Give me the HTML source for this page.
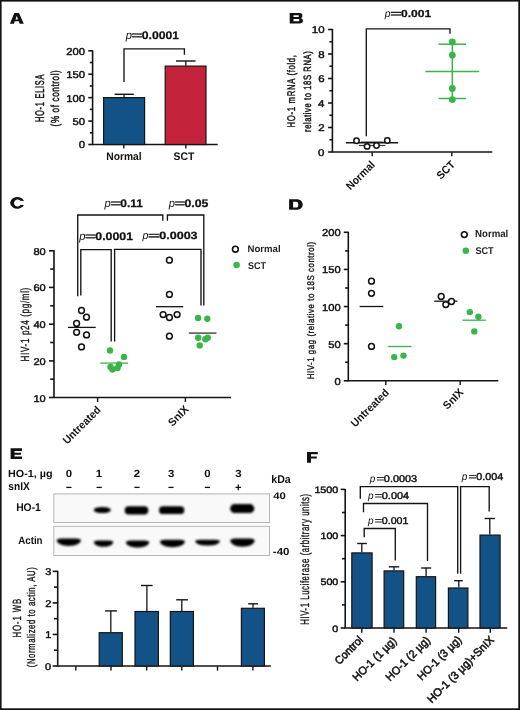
<!DOCTYPE html>
<html><head><meta charset="utf-8"><style>
html,body{margin:0;padding:0;background:#fff;}
svg{display:block;will-change:transform;}
text{font-family:"Liberation Sans",sans-serif;text-rendering:geometricPrecision;}
</style></head><body>
<svg width="520" height="710" viewBox="0 0 520 710">
<rect x="0" y="0" width="520" height="710" fill="#fff"/>
<rect x="0.00" y="0.00" width="1.60" height="710.00" fill="#111" stroke="none" stroke-width="0"/>
<rect x="0.00" y="0.00" width="520.00" height="1.60" fill="#111" stroke="none" stroke-width="0"/>
<rect x="518.30" y="0.00" width="1.70" height="710.00" fill="#111" stroke="none" stroke-width="0"/>
<rect x="0.00" y="708.30" width="520.00" height="1.70" fill="#111" stroke="none" stroke-width="0"/>
<path d="M9.9,23.7 L14.3,13.0 L19.0,13.0 L23.8,23.7 L19.6,23.7 L18.9,21.3 L14.7,21.3 L14.0,23.7 Z M15.5,19.5 L18.0,19.5 L16.8,15.8 Z" stroke="none" stroke-width="0" fill="#111" fill-rule="evenodd"/>
<line x1="92.60" y1="50.30" x2="92.60" y2="145.10" stroke="#141414" stroke-width="1.6"/>
<line x1="88.30" y1="50.80" x2="92.60" y2="50.80" stroke="#141414" stroke-width="1.6"/>
<line x1="88.30" y1="74.22" x2="92.60" y2="74.22" stroke="#141414" stroke-width="1.6"/>
<line x1="88.30" y1="97.65" x2="92.60" y2="97.65" stroke="#141414" stroke-width="1.6"/>
<line x1="88.30" y1="121.08" x2="92.60" y2="121.08" stroke="#141414" stroke-width="1.6"/>
<line x1="88.30" y1="144.50" x2="92.60" y2="144.50" stroke="#141414" stroke-width="1.6"/>
<line x1="89.80" y1="62.51" x2="92.60" y2="62.51" stroke="#141414" stroke-width="1.6"/>
<line x1="89.80" y1="85.94" x2="92.60" y2="85.94" stroke="#141414" stroke-width="1.6"/>
<line x1="89.80" y1="109.36" x2="92.60" y2="109.36" stroke="#141414" stroke-width="1.6"/>
<line x1="89.80" y1="132.79" x2="92.60" y2="132.79" stroke="#141414" stroke-width="1.6"/>
<text transform="translate(66.34,54.65) scale(1.1266,1)" font-size="10.00" font-weight="normal" font-style="normal" text-anchor="start" fill="#111" stroke="#111" stroke-width="0.45" stroke-linejoin="round">200</text>
<text transform="translate(66.34,78.07) scale(1.1266,1)" font-size="10.00" font-weight="normal" font-style="normal" text-anchor="start" fill="#111" stroke="#111" stroke-width="0.45" stroke-linejoin="round">150</text>
<text transform="translate(66.34,101.50) scale(1.1266,1)" font-size="10.00" font-weight="normal" font-style="normal" text-anchor="start" fill="#111" stroke="#111" stroke-width="0.45" stroke-linejoin="round">100</text>
<text transform="translate(72.59,124.92) scale(1.1266,1)" font-size="10.00" font-weight="normal" font-style="normal" text-anchor="start" fill="#111" stroke="#111" stroke-width="0.45" stroke-linejoin="round">50</text>
<text transform="translate(78.84,148.35) scale(1.1266,1)" font-size="10.00" font-weight="normal" font-style="normal" text-anchor="start" fill="#111" stroke="#111" stroke-width="0.45" stroke-linejoin="round">0</text>
<line x1="92.60" y1="144.50" x2="217.70" y2="144.50" stroke="#141414" stroke-width="1.5"/>
<line x1="123.80" y1="144.50" x2="123.80" y2="148.50" stroke="#141414" stroke-width="1.4"/>
<line x1="185.80" y1="144.50" x2="185.80" y2="148.50" stroke="#141414" stroke-width="1.4"/>
<rect x="103.60" y="97.60" width="41.00" height="46.90" fill="#125287" stroke="#141414" stroke-width="1.2"/>
<rect x="165.20" y="66.10" width="40.80" height="78.40" fill="#c4213a" stroke="#141414" stroke-width="1.2"/>
<line x1="124.10" y1="97.30" x2="124.10" y2="94.30" stroke="#141414" stroke-width="1.3"/>
<line x1="114.60" y1="94.30" x2="133.80" y2="94.30" stroke="#141414" stroke-width="1.4"/>
<line x1="185.80" y1="65.80" x2="185.80" y2="61.00" stroke="#141414" stroke-width="1.3"/>
<line x1="176.00" y1="61.00" x2="195.60" y2="61.00" stroke="#141414" stroke-width="1.4"/>
<path d="M124,82 V48.9 H184.4 V54.8" stroke="#141414" stroke-width="1.35" fill="none"/>
<text transform="translate(141.81,39.40) scale(1.1079,1)" font-size="11.00" font-weight="bold" font-style="normal" text-anchor="start" fill="#111" stroke="#111" stroke-width="0.25" stroke-linejoin="round">0.0001</text>
<text transform="translate(125.68,39.40) scale(0.9697,1)" font-size="11.55" font-weight="normal" font-style="italic" text-anchor="start" fill="#111">p</text>
<text transform="translate(131.35,39.40) scale(1.7751,1)" font-size="11.00" font-weight="normal" font-style="normal" text-anchor="start" fill="#111" stroke="#111" stroke-width="0.35" stroke-linejoin="round">=</text>
<text transform="translate(106.23,160.00) scale(0.9339,1)" font-size="11.01" font-weight="bold" font-style="normal" text-anchor="start" fill="#111">Normal</text>
<text transform="translate(173.49,160.00) scale(0.9450,1)" font-size="11.01" font-weight="bold" font-style="normal" text-anchor="start" fill="#111">SCT</text>
<text transform="translate(43.97,121.99) rotate(-90) scale(0.5858,1)" font-size="12.68" font-weight="normal" font-style="normal" text-anchor="start" fill="#111" stroke="#111" stroke-width="0.45" stroke-linejoin="round" letter-spacing="1.243">HO-1 ELISA</text>
<text transform="translate(58.55,126.39) rotate(-90) scale(0.6991,1)" font-size="11.66" font-weight="normal" font-style="normal" text-anchor="start" fill="#111" stroke="#111" stroke-width="0.45" stroke-linejoin="round" letter-spacing="0.850">(% of control)</text>
<path d="M289.7,13.1 H299.5 C301.6,13.1 302.4,14.3 302.4,15.7 C302.4,16.9 301.7,17.6 300.9,18.0 C302.1,18.4 302.9,19.3 302.9,20.7 C302.9,22.4 301.7,23.5 299.6,23.5 H289.7 Z M293.5,15.3 H298.2 C298.8,15.3 299.0,15.7 299.0,16.1 C299.0,16.5 298.8,16.9 298.2,16.9 H293.5 Z M293.5,19.1 H298.4 C299.1,19.1 299.4,19.6 299.4,20.15 C299.4,20.7 299.1,21.2 298.4,21.2 H293.5 Z" stroke="none" stroke-width="0" fill="#111" fill-rule="evenodd"/>
<line x1="332.40" y1="29.00" x2="332.40" y2="152.60" stroke="#141414" stroke-width="1.6"/>
<line x1="328.10" y1="152.00" x2="332.40" y2="152.00" stroke="#141414" stroke-width="1.6"/>
<line x1="328.10" y1="127.50" x2="332.40" y2="127.50" stroke="#141414" stroke-width="1.6"/>
<line x1="328.10" y1="103.00" x2="332.40" y2="103.00" stroke="#141414" stroke-width="1.6"/>
<line x1="328.10" y1="78.50" x2="332.40" y2="78.50" stroke="#141414" stroke-width="1.6"/>
<line x1="328.10" y1="54.00" x2="332.40" y2="54.00" stroke="#141414" stroke-width="1.6"/>
<line x1="328.10" y1="29.50" x2="332.40" y2="29.50" stroke="#141414" stroke-width="1.6"/>
<line x1="329.40" y1="139.75" x2="332.40" y2="139.75" stroke="#141414" stroke-width="1.6"/>
<line x1="329.40" y1="115.25" x2="332.40" y2="115.25" stroke="#141414" stroke-width="1.6"/>
<line x1="329.40" y1="90.75" x2="332.40" y2="90.75" stroke="#141414" stroke-width="1.6"/>
<line x1="329.40" y1="66.25" x2="332.40" y2="66.25" stroke="#141414" stroke-width="1.6"/>
<line x1="329.40" y1="41.75" x2="332.40" y2="41.75" stroke="#141414" stroke-width="1.6"/>
<text transform="translate(318.12,155.70) scale(1.1664,1)" font-size="9.86" font-weight="normal" font-style="normal" text-anchor="start" fill="#111" stroke="#111" stroke-width="0.45" stroke-linejoin="round">0</text>
<text transform="translate(318.29,131.20) scale(1.1664,1)" font-size="9.86" font-weight="normal" font-style="normal" text-anchor="start" fill="#111" stroke="#111" stroke-width="0.45" stroke-linejoin="round">2</text>
<text transform="translate(318.06,106.70) scale(1.1664,1)" font-size="9.86" font-weight="normal" font-style="normal" text-anchor="start" fill="#111" stroke="#111" stroke-width="0.45" stroke-linejoin="round">4</text>
<text transform="translate(318.18,82.20) scale(1.1664,1)" font-size="9.86" font-weight="normal" font-style="normal" text-anchor="start" fill="#111" stroke="#111" stroke-width="0.45" stroke-linejoin="round">6</text>
<text transform="translate(318.18,57.70) scale(1.1664,1)" font-size="9.86" font-weight="normal" font-style="normal" text-anchor="start" fill="#111" stroke="#111" stroke-width="0.45" stroke-linejoin="round">8</text>
<text transform="translate(311.74,33.20) scale(1.1664,1)" font-size="9.86" font-weight="normal" font-style="normal" text-anchor="start" fill="#111" stroke="#111" stroke-width="0.45" stroke-linejoin="round">10</text>
<line x1="332.40" y1="152.00" x2="492.30" y2="152.00" stroke="#141414" stroke-width="1.5"/>
<line x1="372.20" y1="152.20" x2="372.20" y2="156.30" stroke="#141414" stroke-width="1.4"/>
<line x1="451.80" y1="152.20" x2="451.80" y2="156.30" stroke="#141414" stroke-width="1.4"/>
<path d="M366.3,136.3 V28.8 H450 V33.7" stroke="#141414" stroke-width="1.35" fill="none"/>
<text transform="translate(401.02,16.60) scale(1.1863,1)" font-size="10.14" font-weight="bold" font-style="normal" text-anchor="start" fill="#111" stroke="#111" stroke-width="0.25" stroke-linejoin="round">0.001</text>
<text transform="translate(384.86,16.60) scale(0.9697,1)" font-size="10.65" font-weight="normal" font-style="italic" text-anchor="start" fill="#111">p</text>
<text transform="translate(389.96,16.60) scale(2.0348,1)" font-size="10.14" font-weight="normal" font-style="normal" text-anchor="start" fill="#111" stroke="#111" stroke-width="0.35" stroke-linejoin="round">=</text>
<line x1="360.90" y1="141.60" x2="383.50" y2="141.60" stroke="#999" stroke-width="1.3"/>
<line x1="359.00" y1="145.50" x2="385.40" y2="145.50" stroke="#333" stroke-width="1.2"/>
<line x1="346.00" y1="142.80" x2="398.00" y2="142.80" stroke="#141414" stroke-width="1.4"/>
<circle cx="356.50" cy="140.80" r="2.7" fill="#fff" stroke="#111" stroke-width="1.5"/>
<circle cx="367.10" cy="146.40" r="2.7" fill="#fff" stroke="#111" stroke-width="1.5"/>
<circle cx="376.50" cy="145.50" r="2.7" fill="#fff" stroke="#111" stroke-width="1.5"/>
<circle cx="387.30" cy="140.50" r="2.7" fill="#fff" stroke="#111" stroke-width="1.5"/>
<line x1="452.30" y1="44.20" x2="452.30" y2="98.50" stroke="#3ab54a" stroke-width="1.5"/>
<line x1="438.50" y1="44.20" x2="466.00" y2="44.20" stroke="#3ab54a" stroke-width="1.5"/>
<line x1="438.50" y1="98.50" x2="466.00" y2="98.50" stroke="#3ab54a" stroke-width="1.5"/>
<line x1="425.40" y1="71.50" x2="479.20" y2="71.50" stroke="#3ab54a" stroke-width="1.5"/>
<circle cx="452.30" cy="41.90" r="3.4" fill="#3ab54a"/>
<circle cx="452.30" cy="55.20" r="3.4" fill="#3ab54a"/>
<circle cx="452.30" cy="88.50" r="3.4" fill="#3ab54a"/>
<circle cx="452.30" cy="99.60" r="3.4" fill="#3ab54a"/>
<text transform="translate(295.06,127.42) rotate(-90) scale(0.6977,1)" font-size="11.12" font-weight="normal" font-style="normal" text-anchor="start" fill="#111" stroke="#111" stroke-width="0.45" stroke-linejoin="round" letter-spacing="0.952">HO-1 mRNA (fold,</text>
<text transform="translate(310.58,132.00) rotate(-90) scale(0.7214,1)" font-size="10.59" font-weight="normal" font-style="normal" text-anchor="start" fill="#111" stroke="#111" stroke-width="0.45" stroke-linejoin="round" letter-spacing="0.815">relative to 18S RNA)</text>
<path d="M24.06,200.9 A7.2,5.8 0 1 0 24.0,205.0 L20.4,205.0 A3.5,3.45 0 1 1 20.15,200.8 Z" stroke="none" stroke-width="0" fill="#111"/>
<line x1="54.00" y1="250.30" x2="54.00" y2="398.10" stroke="#141414" stroke-width="1.6"/>
<line x1="49.00" y1="250.80" x2="54.00" y2="250.80" stroke="#141414" stroke-width="1.6"/>
<line x1="49.00" y1="287.40" x2="54.00" y2="287.40" stroke="#141414" stroke-width="1.6"/>
<line x1="49.00" y1="324.20" x2="54.00" y2="324.20" stroke="#141414" stroke-width="1.6"/>
<line x1="49.00" y1="360.90" x2="54.00" y2="360.90" stroke="#141414" stroke-width="1.6"/>
<line x1="49.00" y1="397.50" x2="54.00" y2="397.50" stroke="#141414" stroke-width="1.6"/>
<line x1="50.20" y1="269.10" x2="54.00" y2="269.10" stroke="#141414" stroke-width="1.6"/>
<line x1="50.20" y1="305.80" x2="54.00" y2="305.80" stroke="#141414" stroke-width="1.6"/>
<line x1="50.20" y1="342.50" x2="54.00" y2="342.50" stroke="#141414" stroke-width="1.6"/>
<line x1="50.20" y1="379.20" x2="54.00" y2="379.20" stroke="#141414" stroke-width="1.6"/>
<text transform="translate(33.40,254.80) scale(1.1226,1)" font-size="9.86" font-weight="normal" font-style="normal" text-anchor="start" fill="#111" stroke="#111" stroke-width="0.45" stroke-linejoin="round">80</text>
<text transform="translate(33.40,291.40) scale(1.1226,1)" font-size="9.86" font-weight="normal" font-style="normal" text-anchor="start" fill="#111" stroke="#111" stroke-width="0.45" stroke-linejoin="round">60</text>
<text transform="translate(33.40,328.20) scale(1.1226,1)" font-size="9.86" font-weight="normal" font-style="normal" text-anchor="start" fill="#111" stroke="#111" stroke-width="0.45" stroke-linejoin="round">40</text>
<text transform="translate(33.40,364.90) scale(1.1226,1)" font-size="9.86" font-weight="normal" font-style="normal" text-anchor="start" fill="#111" stroke="#111" stroke-width="0.45" stroke-linejoin="round">20</text>
<text transform="translate(33.40,401.50) scale(1.1226,1)" font-size="9.86" font-weight="normal" font-style="normal" text-anchor="start" fill="#111" stroke="#111" stroke-width="0.45" stroke-linejoin="round">10</text>
<line x1="54.00" y1="397.50" x2="231.00" y2="397.50" stroke="#141414" stroke-width="1.5"/>
<line x1="97.60" y1="397.50" x2="97.60" y2="402.00" stroke="#141414" stroke-width="1.4"/>
<line x1="185.40" y1="397.50" x2="185.40" y2="402.00" stroke="#141414" stroke-width="1.4"/>
<path d="M77.7,296.2 V215 H162.8 V220.8" stroke="#141414" stroke-width="1.35" fill="none"/>
<path d="M167.4,220.8 V215 H203.8 V305.4" stroke="#141414" stroke-width="1.35" fill="none"/>
<path d="M80.8,295.4 V249.6 H111.2 V341.5" stroke="#141414" stroke-width="1.35" fill="none"/>
<path d="M114.6,341.5 V249.4 H201 V305.4" stroke="#141414" stroke-width="1.35" fill="none"/>
<text transform="translate(120.32,206.50) scale(1.0859,1)" font-size="11.00" font-weight="bold" font-style="normal" text-anchor="start" fill="#111" stroke="#111" stroke-width="0.25" stroke-linejoin="round">0.11</text>
<text transform="translate(104.48,206.50) scale(0.9697,1)" font-size="11.55" font-weight="normal" font-style="italic" text-anchor="start" fill="#111">p</text>
<text transform="translate(110.18,206.50) scale(1.7188,1)" font-size="11.00" font-weight="normal" font-style="normal" text-anchor="start" fill="#111" stroke="#111" stroke-width="0.35" stroke-linejoin="round">=</text>
<text transform="translate(184.51,206.50) scale(1.1122,1)" font-size="11.00" font-weight="bold" font-style="normal" text-anchor="start" fill="#111" stroke="#111" stroke-width="0.25" stroke-linejoin="round">0.05</text>
<text transform="translate(168.78,206.50) scale(0.9697,1)" font-size="11.55" font-weight="normal" font-style="italic" text-anchor="start" fill="#111">p</text>
<text transform="translate(174.49,206.50) scale(1.7001,1)" font-size="11.00" font-weight="normal" font-style="normal" text-anchor="start" fill="#111" stroke="#111" stroke-width="0.35" stroke-linejoin="round">=</text>
<text transform="translate(95.31,239.60) scale(1.1231,1)" font-size="11.00" font-weight="bold" font-style="normal" text-anchor="start" fill="#111" stroke="#111" stroke-width="0.25" stroke-linejoin="round">0.0001</text>
<text transform="translate(79.18,239.60) scale(0.9697,1)" font-size="11.55" font-weight="normal" font-style="italic" text-anchor="start" fill="#111">p</text>
<text transform="translate(84.85,239.60) scale(1.7751,1)" font-size="11.00" font-weight="normal" font-style="normal" text-anchor="start" fill="#111" stroke="#111" stroke-width="0.35" stroke-linejoin="round">=</text>
<text transform="translate(159.20,239.30) scale(1.2047,1)" font-size="10.43" font-weight="bold" font-style="normal" text-anchor="start" fill="#111" stroke="#111" stroke-width="0.25" stroke-linejoin="round">0.0003</text>
<text transform="translate(142.57,239.30) scale(0.9697,1)" font-size="10.95" font-weight="normal" font-style="italic" text-anchor="start" fill="#111">p</text>
<text transform="translate(147.81,239.30) scale(2.0424,1)" font-size="10.43" font-weight="normal" font-style="normal" text-anchor="start" fill="#111" stroke="#111" stroke-width="0.35" stroke-linejoin="round">=</text>
<line x1="68.00" y1="327.40" x2="95.70" y2="327.40" stroke="#141414" stroke-width="1.3"/>
<circle cx="81.50" cy="310.50" r="2.9" fill="#fff" stroke="#111" stroke-width="1.5"/>
<circle cx="86.50" cy="317.20" r="2.9" fill="#fff" stroke="#111" stroke-width="1.5"/>
<circle cx="76.60" cy="323.40" r="2.9" fill="#fff" stroke="#111" stroke-width="1.5"/>
<circle cx="76.60" cy="332.30" r="2.9" fill="#fff" stroke="#111" stroke-width="1.5"/>
<circle cx="86.50" cy="334.90" r="2.9" fill="#fff" stroke="#111" stroke-width="1.5"/>
<circle cx="81.50" cy="346.90" r="2.9" fill="#fff" stroke="#111" stroke-width="1.5"/>
<circle cx="110.00" cy="350.50" r="3.2" fill="#3ab54a"/>
<circle cx="124.00" cy="356.90" r="3.2" fill="#3ab54a"/>
<circle cx="110.50" cy="367.00" r="3.2" fill="#3ab54a"/>
<circle cx="112.50" cy="369.50" r="3.2" fill="#3ab54a"/>
<circle cx="117.50" cy="368.00" r="3.2" fill="#3ab54a"/>
<circle cx="119.00" cy="364.50" r="3.2" fill="#3ab54a"/>
<line x1="100.40" y1="363.10" x2="128.10" y2="363.10" stroke="#3ab54a" stroke-width="1.3"/>
<line x1="156.00" y1="306.70" x2="183.30" y2="306.70" stroke="#141414" stroke-width="1.3"/>
<circle cx="169.40" cy="260.20" r="2.9" fill="#fff" stroke="#111" stroke-width="1.5"/>
<circle cx="169.40" cy="294.40" r="2.9" fill="#fff" stroke="#111" stroke-width="1.5"/>
<circle cx="163.10" cy="314.60" r="2.9" fill="#fff" stroke="#111" stroke-width="1.5"/>
<circle cx="169.40" cy="317.50" r="2.9" fill="#fff" stroke="#111" stroke-width="1.5"/>
<circle cx="177.10" cy="314.60" r="2.9" fill="#fff" stroke="#111" stroke-width="1.5"/>
<circle cx="169.40" cy="336.20" r="2.9" fill="#fff" stroke="#111" stroke-width="1.5"/>
<circle cx="198.10" cy="317.90" r="3.2" fill="#3ab54a"/>
<circle cx="207.30" cy="318.80" r="3.2" fill="#3ab54a"/>
<circle cx="198.20" cy="337.70" r="3.2" fill="#3ab54a"/>
<circle cx="205.40" cy="339.20" r="3.2" fill="#3ab54a"/>
<circle cx="207.70" cy="337.70" r="3.2" fill="#3ab54a"/>
<circle cx="199.70" cy="345.40" r="3.2" fill="#3ab54a"/>
<line x1="188.80" y1="333.10" x2="216.50" y2="333.10" stroke="#333" stroke-width="1.3"/>
<circle cx="235.40" cy="249.20" r="2.9" fill="#fff" stroke="#111" stroke-width="1.6"/>
<circle cx="236.60" cy="265.00" r="3.3" fill="#3ab54a"/>
<text transform="translate(247.58,251.60) scale(1.0029,1)" font-size="9.57" font-weight="bold" font-style="normal" text-anchor="start" fill="#222">Normal</text>
<text transform="translate(247.93,268.80) scale(0.9112,1)" font-size="9.86" font-weight="bold" font-style="normal" text-anchor="start" fill="#222">SCT</text>
<text transform="translate(28.81,361.45) rotate(-90) scale(0.6844,1)" font-size="11.87" font-weight="normal" font-style="normal" text-anchor="start" fill="#111" stroke="#111" stroke-width="0.35" stroke-linejoin="round" letter-spacing="0.929">HIV-1 p24 (pg/ml)</text>
<path d="M289.1,199.2 H296.5 C300.3,199.2 302.7,201.4 302.7,204.45 C302.7,207.5 300.3,209.7 296.5,209.7 H289.1 Z M293.1,201.8 H296.2 C297.8,201.8 298.3,203.0 298.3,204.7 C298.3,206.4 297.8,207.6 296.2,207.6 H293.1 Z" stroke="none" stroke-width="0" fill="#111" fill-rule="evenodd"/>
<line x1="348.30" y1="231.80" x2="348.30" y2="381.40" stroke="#141414" stroke-width="1.6"/>
<line x1="343.80" y1="380.80" x2="348.30" y2="380.80" stroke="#141414" stroke-width="1.6"/>
<line x1="343.80" y1="343.68" x2="348.30" y2="343.68" stroke="#141414" stroke-width="1.6"/>
<line x1="343.80" y1="306.55" x2="348.30" y2="306.55" stroke="#141414" stroke-width="1.6"/>
<line x1="343.80" y1="269.43" x2="348.30" y2="269.43" stroke="#141414" stroke-width="1.6"/>
<line x1="343.80" y1="232.30" x2="348.30" y2="232.30" stroke="#141414" stroke-width="1.6"/>
<line x1="345.10" y1="362.24" x2="348.30" y2="362.24" stroke="#141414" stroke-width="1.6"/>
<line x1="345.10" y1="325.11" x2="348.30" y2="325.11" stroke="#141414" stroke-width="1.6"/>
<line x1="345.10" y1="287.99" x2="348.30" y2="287.99" stroke="#141414" stroke-width="1.6"/>
<line x1="345.10" y1="250.86" x2="348.30" y2="250.86" stroke="#141414" stroke-width="1.6"/>
<text transform="translate(334.41,384.75) scale(1.1139,1)" font-size="10.00" font-weight="normal" font-style="normal" text-anchor="start" fill="#111" stroke="#111" stroke-width="0.45" stroke-linejoin="round">0</text>
<text transform="translate(328.23,347.62) scale(1.1139,1)" font-size="10.00" font-weight="normal" font-style="normal" text-anchor="start" fill="#111" stroke="#111" stroke-width="0.45" stroke-linejoin="round">50</text>
<text transform="translate(322.04,310.50) scale(1.1139,1)" font-size="10.00" font-weight="normal" font-style="normal" text-anchor="start" fill="#111" stroke="#111" stroke-width="0.45" stroke-linejoin="round">100</text>
<text transform="translate(322.04,273.38) scale(1.1139,1)" font-size="10.00" font-weight="normal" font-style="normal" text-anchor="start" fill="#111" stroke="#111" stroke-width="0.45" stroke-linejoin="round">150</text>
<text transform="translate(322.04,236.25) scale(1.1139,1)" font-size="10.00" font-weight="normal" font-style="normal" text-anchor="start" fill="#111" stroke="#111" stroke-width="0.45" stroke-linejoin="round">200</text>
<line x1="348.30" y1="380.80" x2="498.30" y2="380.80" stroke="#141414" stroke-width="1.5"/>
<line x1="385.80" y1="380.80" x2="385.80" y2="385.00" stroke="#141414" stroke-width="1.4"/>
<line x1="460.20" y1="380.80" x2="460.20" y2="385.00" stroke="#141414" stroke-width="1.4"/>
<line x1="359.60" y1="306.50" x2="383.30" y2="306.50" stroke="#141414" stroke-width="1.3"/>
<circle cx="371.50" cy="281.20" r="2.9" fill="#fff" stroke="#111" stroke-width="1.5"/>
<circle cx="371.50" cy="293.30" r="2.9" fill="#fff" stroke="#111" stroke-width="1.5"/>
<circle cx="371.50" cy="346.40" r="2.9" fill="#fff" stroke="#111" stroke-width="1.5"/>
<line x1="387.90" y1="346.50" x2="411.50" y2="346.50" stroke="#3ab54a" stroke-width="1.3"/>
<circle cx="399.00" cy="326.30" r="3.2" fill="#3ab54a"/>
<circle cx="394.20" cy="357.10" r="3.2" fill="#3ab54a"/>
<circle cx="403.50" cy="355.60" r="3.2" fill="#3ab54a"/>
<line x1="434.30" y1="301.20" x2="457.40" y2="301.20" stroke="#141414" stroke-width="1.3"/>
<circle cx="441.20" cy="296.50" r="2.9" fill="#fff" stroke="#111" stroke-width="1.5"/>
<circle cx="445.80" cy="304.60" r="2.9" fill="#fff" stroke="#111" stroke-width="1.5"/>
<circle cx="451.50" cy="301.50" r="2.9" fill="#fff" stroke="#111" stroke-width="1.5"/>
<line x1="462.50" y1="320.20" x2="485.90" y2="320.20" stroke="#3ab54a" stroke-width="1.3"/>
<circle cx="469.80" cy="312.10" r="3.2" fill="#3ab54a"/>
<circle cx="478.40" cy="316.70" r="3.2" fill="#3ab54a"/>
<circle cx="474.30" cy="331.40" r="3.2" fill="#3ab54a"/>
<circle cx="464.30" cy="234.60" r="2.9" fill="#fff" stroke="#111" stroke-width="1.6"/>
<circle cx="465.80" cy="250.80" r="3.3" fill="#3ab54a"/>
<text transform="translate(475.07,237.20) scale(0.9515,1)" font-size="10.14" font-weight="bold" font-style="normal" text-anchor="start" fill="#222">Normal</text>
<text transform="translate(475.43,254.20) scale(0.9215,1)" font-size="9.86" font-weight="bold" font-style="normal" text-anchor="start" fill="#222">SCT</text>
<text transform="translate(313.58,379.33) rotate(-90) scale(0.8162,1)" font-size="9.63" font-weight="normal" font-style="normal" text-anchor="start" fill="#111" stroke="#111" stroke-width="0.35" stroke-linejoin="round" letter-spacing="0.688">HIV-1 gag (relative to 18S control)</text>
<path d="M10.6,448.3 H22 V450.9 H14.5 V452.7 H21 V454.8 H14.5 V456.6 H22 V458.9 H10.6 Z" stroke="none" stroke-width="0" fill="#111"/>
<text transform="translate(8.00,476.90) scale(1.0496,1)" font-size="10.29" font-weight="bold" font-style="normal" text-anchor="start" fill="#111">HO-1, µg</text>
<text transform="translate(8.34,490.40) scale(0.9156,1)" font-size="11.16" font-weight="bold" font-style="normal" text-anchor="start" fill="#111">snIX</text>
<text transform="translate(65.72,477.40) scale(1.1000,1)" font-size="10.42" font-weight="bold" font-style="normal" text-anchor="start" fill="#111">0</text>
<text transform="translate(95.82,477.40) scale(1.1000,1)" font-size="10.42" font-weight="bold" font-style="normal" text-anchor="start" fill="#111">1</text>
<text transform="translate(133.85,477.40) scale(1.1000,1)" font-size="10.42" font-weight="bold" font-style="normal" text-anchor="start" fill="#111">2</text>
<text transform="translate(167.88,477.40) scale(1.1000,1)" font-size="10.42" font-weight="bold" font-style="normal" text-anchor="start" fill="#111">3</text>
<text transform="translate(204.22,477.40) scale(1.1000,1)" font-size="10.42" font-weight="bold" font-style="normal" text-anchor="start" fill="#111">0</text>
<text transform="translate(235.18,477.40) scale(1.1000,1)" font-size="10.42" font-weight="bold" font-style="normal" text-anchor="start" fill="#111">3</text>
<line x1="66.30" y1="487.40" x2="71.50" y2="487.40" stroke="#111" stroke-width="1.3"/>
<line x1="96.60" y1="487.40" x2="101.80" y2="487.40" stroke="#111" stroke-width="1.3"/>
<line x1="134.40" y1="487.40" x2="139.60" y2="487.40" stroke="#111" stroke-width="1.3"/>
<line x1="168.40" y1="487.40" x2="173.60" y2="487.40" stroke="#111" stroke-width="1.3"/>
<line x1="204.80" y1="487.40" x2="210.00" y2="487.40" stroke="#111" stroke-width="1.3"/>
<line x1="235.50" y1="487.40" x2="241.10" y2="487.40" stroke="#111" stroke-width="1.3"/>
<line x1="238.30" y1="484.60" x2="238.30" y2="490.20" stroke="#111" stroke-width="1.3"/>
<defs><filter id="bl" x="-30%" y="-60%" width="160%" height="220%"><feGaussianBlur stdDeviation="0.9"/></filter><filter id="bl2" x="-50%" y="-100%" width="200%" height="300%"><feGaussianBlur stdDeviation="1.3"/></filter></defs>
<rect x="53.80" y="493.90" width="215.70" height="28.60" fill="#f9f9fa" stroke="#b4b4b4" stroke-width="1.0"/>
<rect x="53.80" y="526.30" width="215.70" height="29.20" fill="#f9f9fa" stroke="#b4b4b4" stroke-width="1.0"/>
<ellipse cx="102.3" cy="510" rx="8.6" ry="3.1" fill="#000" filter="url(#bl2)"/>
<rect x="124.70" y="506.30" width="23.60" height="8.20" rx="4.10" ry="4.10" fill="#000" filter="url(#bl)"/>
<rect x="159.00" y="506.30" width="25.30" height="7.80" rx="3.90" ry="3.90" fill="#000" filter="url(#bl)"/>
<rect x="230.10" y="504.10" width="24.20" height="8.90" rx="4.45" ry="4.45" fill="#000" filter="url(#bl)"/>
<path d="M56.80,540.28 C56.80,538.40 60.40,538.40 68.80,538.40 C77.20,538.40 80.80,538.40 80.80,540.28 C80.80,543.65 75.52,545.90 68.80,545.90 C62.08,545.90 56.80,543.65 56.80,540.28 Z" fill="#000" filter="url(#bl)"/>
<path d="M93.90,542.00 C93.90,540.40 96.80,540.40 103.55,540.40 C110.31,540.40 113.20,540.40 113.20,542.00 C113.20,544.88 108.95,546.80 103.55,546.80 C98.15,546.80 93.90,544.88 93.90,542.00 Z" fill="#000" filter="url(#bl)"/>
<path d="M126.00,542.15 C126.00,540.40 129.47,540.40 137.55,540.40 C145.63,540.40 149.10,540.40 149.10,542.15 C149.10,545.30 144.02,547.40 137.55,547.40 C131.08,547.40 126.00,545.30 126.00,542.15 Z" fill="#000" filter="url(#bl)"/>
<path d="M160.00,541.58 C160.00,539.70 163.72,539.70 172.40,539.70 C181.08,539.70 184.80,539.70 184.80,541.58 C184.80,544.95 179.34,547.20 172.40,547.20 C165.46,547.20 160.00,544.95 160.00,541.58 Z" fill="#000" filter="url(#bl)"/>
<path d="M195.40,541.15 C195.40,539.70 199.05,539.70 207.55,539.70 C216.05,539.70 219.70,539.70 219.70,541.15 C219.70,543.76 214.35,545.50 207.55,545.50 C200.75,545.50 195.40,543.76 195.40,541.15 Z" fill="#000" filter="url(#bl)"/>
<path d="M230.30,540.58 C230.30,538.50 233.95,538.50 242.45,538.50 C250.95,538.50 254.60,538.50 254.60,540.58 C254.60,544.31 249.25,546.80 242.45,546.80 C235.65,546.80 230.30,544.31 230.30,540.58 Z" fill="#000" filter="url(#bl)"/>
<text transform="translate(16.13,510.90) scale(0.9273,1)" font-size="11.16" font-weight="bold" font-style="normal" text-anchor="start" fill="#111">HO-1</text>
<text transform="translate(18.16,544.20) scale(0.9112,1)" font-size="10.72" font-weight="bold" font-style="normal" text-anchor="start" fill="#111">Actin</text>
<text transform="translate(271.26,482.70) scale(0.9491,1)" font-size="11.16" font-weight="bold" font-style="normal" text-anchor="start" fill="#111">kDa</text>
<text transform="translate(273.13,498.50) scale(1.1884,1)" font-size="9.57" font-weight="bold" font-style="normal" text-anchor="start" fill="#111">40</text>
<text transform="translate(272.84,554.60) scale(1.1249,1)" font-size="10.29" font-weight="bold" font-style="normal" text-anchor="start" fill="#111">-40</text>
<line x1="57.70" y1="570.85" x2="57.70" y2="666.60" stroke="#141414" stroke-width="1.6"/>
<line x1="52.70" y1="666.00" x2="57.70" y2="666.00" stroke="#141414" stroke-width="1.6"/>
<line x1="52.70" y1="634.45" x2="57.70" y2="634.45" stroke="#141414" stroke-width="1.6"/>
<line x1="52.70" y1="602.90" x2="57.70" y2="602.90" stroke="#141414" stroke-width="1.6"/>
<line x1="52.70" y1="571.35" x2="57.70" y2="571.35" stroke="#141414" stroke-width="1.6"/>
<line x1="53.90" y1="650.23" x2="57.70" y2="650.23" stroke="#141414" stroke-width="1.6"/>
<line x1="53.90" y1="618.67" x2="57.70" y2="618.67" stroke="#141414" stroke-width="1.6"/>
<line x1="53.90" y1="587.12" x2="57.70" y2="587.12" stroke="#141414" stroke-width="1.6"/>
<text transform="translate(45.11,669.70) scale(1.1104,1)" font-size="9.86" font-weight="normal" font-style="normal" text-anchor="start" fill="#111" stroke="#111" stroke-width="0.45" stroke-linejoin="round">0</text>
<text transform="translate(45.22,638.15) scale(1.1104,1)" font-size="9.86" font-weight="normal" font-style="normal" text-anchor="start" fill="#111" stroke="#111" stroke-width="0.45" stroke-linejoin="round">1</text>
<text transform="translate(45.27,606.60) scale(1.1104,1)" font-size="9.86" font-weight="normal" font-style="normal" text-anchor="start" fill="#111" stroke="#111" stroke-width="0.45" stroke-linejoin="round">2</text>
<text transform="translate(45.16,575.05) scale(1.1104,1)" font-size="9.86" font-weight="normal" font-style="normal" text-anchor="start" fill="#111" stroke="#111" stroke-width="0.45" stroke-linejoin="round">3</text>
<line x1="57.70" y1="666.00" x2="270.80" y2="666.00" stroke="#141414" stroke-width="1.5"/>
<line x1="75.80" y1="666.30" x2="75.80" y2="670.60" stroke="#141414" stroke-width="1.4"/>
<line x1="111.00" y1="666.30" x2="111.00" y2="670.60" stroke="#141414" stroke-width="1.4"/>
<line x1="146.70" y1="666.30" x2="146.70" y2="670.60" stroke="#141414" stroke-width="1.4"/>
<line x1="181.80" y1="666.30" x2="181.80" y2="670.60" stroke="#141414" stroke-width="1.4"/>
<line x1="217.50" y1="666.30" x2="217.50" y2="670.60" stroke="#141414" stroke-width="1.4"/>
<line x1="252.90" y1="666.30" x2="252.90" y2="670.60" stroke="#141414" stroke-width="1.4"/>
<line x1="110.80" y1="632.10" x2="110.80" y2="610.90" stroke="#141414" stroke-width="1.3"/>
<line x1="105.10" y1="610.90" x2="116.80" y2="610.90" stroke="#141414" stroke-width="1.4"/>
<rect x="99.20" y="632.70" width="23.10" height="33.30" fill="#125287" stroke="#141414" stroke-width="1.2"/>
<line x1="146.90" y1="610.90" x2="146.90" y2="585.50" stroke="#141414" stroke-width="1.3"/>
<line x1="141.00" y1="585.50" x2="152.60" y2="585.50" stroke="#141414" stroke-width="1.4"/>
<rect x="135.00" y="611.50" width="23.40" height="54.50" fill="#125287" stroke="#141414" stroke-width="1.2"/>
<line x1="181.80" y1="610.90" x2="181.80" y2="599.80" stroke="#141414" stroke-width="1.3"/>
<line x1="176.20" y1="599.80" x2="187.90" y2="599.80" stroke="#141414" stroke-width="1.4"/>
<rect x="170.30" y="611.50" width="23.10" height="54.50" fill="#125287" stroke="#141414" stroke-width="1.2"/>
<line x1="253.00" y1="607.70" x2="253.00" y2="603.80" stroke="#141414" stroke-width="1.3"/>
<line x1="248.20" y1="603.80" x2="258.00" y2="603.80" stroke="#141414" stroke-width="1.4"/>
<rect x="241.40" y="608.30" width="23.00" height="57.70" fill="#125287" stroke="#141414" stroke-width="1.2"/>
<text transform="translate(20.98,637.53) rotate(-90) scale(0.6611,1)" font-size="11.83" font-weight="normal" font-style="normal" text-anchor="start" fill="#111" stroke="#111" stroke-width="0.35" stroke-linejoin="round" letter-spacing="1.331">HO-1 WB</text>
<text transform="translate(35.14,667.27) rotate(-90) scale(0.6912,1)" font-size="11.23" font-weight="normal" font-style="normal" text-anchor="start" fill="#111" stroke="#111" stroke-width="0.35" stroke-linejoin="round" letter-spacing="0.837">(Normalized to actin, AU)</text>
<path d="M307,451.9 H317.8 V454.2 H311 V456.4 H316.8 V458.5 H311 V462.8 H307 Z" stroke="none" stroke-width="0" fill="#111"/>
<line x1="345.20" y1="488.90" x2="345.20" y2="628.60" stroke="#141414" stroke-width="1.6"/>
<line x1="340.70" y1="628.00" x2="345.20" y2="628.00" stroke="#141414" stroke-width="1.6"/>
<line x1="340.70" y1="581.80" x2="345.20" y2="581.80" stroke="#141414" stroke-width="1.6"/>
<line x1="340.70" y1="535.60" x2="345.20" y2="535.60" stroke="#141414" stroke-width="1.6"/>
<line x1="340.70" y1="489.40" x2="345.20" y2="489.40" stroke="#141414" stroke-width="1.6"/>
<line x1="342.00" y1="604.90" x2="345.20" y2="604.90" stroke="#141414" stroke-width="1.6"/>
<line x1="342.00" y1="558.70" x2="345.20" y2="558.70" stroke="#141414" stroke-width="1.6"/>
<line x1="342.00" y1="512.50" x2="345.20" y2="512.50" stroke="#141414" stroke-width="1.6"/>
<text transform="translate(332.32,631.60) scale(1.1546,1)" font-size="9.30" font-weight="normal" font-style="normal" text-anchor="start" fill="#111" stroke="#111" stroke-width="0.45" stroke-linejoin="round">0</text>
<text transform="translate(320.41,585.40) scale(1.1546,1)" font-size="9.30" font-weight="normal" font-style="normal" text-anchor="start" fill="#111" stroke="#111" stroke-width="0.45" stroke-linejoin="round">500</text>
<text transform="translate(320.41,539.20) scale(1.1546,1)" font-size="9.30" font-weight="normal" font-style="normal" text-anchor="start" fill="#111" stroke="#111" stroke-width="0.45" stroke-linejoin="round">100</text>
<text transform="translate(314.40,493.00) scale(1.1546,1)" font-size="9.30" font-weight="normal" font-style="normal" text-anchor="start" fill="#111" stroke="#111" stroke-width="0.45" stroke-linejoin="round">1500</text>
<line x1="345.20" y1="628.00" x2="507.30" y2="628.00" stroke="#141414" stroke-width="1.5"/>
<line x1="361.80" y1="628.00" x2="361.80" y2="632.70" stroke="#141414" stroke-width="1.4"/>
<line x1="394.00" y1="628.00" x2="394.00" y2="632.70" stroke="#141414" stroke-width="1.4"/>
<line x1="426.10" y1="628.00" x2="426.10" y2="632.70" stroke="#141414" stroke-width="1.4"/>
<line x1="458.70" y1="628.00" x2="458.70" y2="632.70" stroke="#141414" stroke-width="1.4"/>
<line x1="490.30" y1="628.00" x2="490.30" y2="632.70" stroke="#141414" stroke-width="1.4"/>
<line x1="361.80" y1="552.30" x2="361.80" y2="543.50" stroke="#141414" stroke-width="1.3"/>
<line x1="357.20" y1="543.50" x2="366.90" y2="543.50" stroke="#141414" stroke-width="1.4"/>
<rect x="351.80" y="552.90" width="20.30" height="75.10" fill="#125287" stroke="#141414" stroke-width="1.2"/>
<line x1="394.00" y1="570.30" x2="394.00" y2="566.80" stroke="#141414" stroke-width="1.3"/>
<line x1="388.80" y1="566.80" x2="399.20" y2="566.80" stroke="#141414" stroke-width="1.4"/>
<rect x="384.10" y="570.90" width="19.60" height="57.10" fill="#125287" stroke="#141414" stroke-width="1.2"/>
<line x1="426.10" y1="576.10" x2="426.10" y2="568.00" stroke="#141414" stroke-width="1.3"/>
<line x1="421.20" y1="568.00" x2="431.20" y2="568.00" stroke="#141414" stroke-width="1.4"/>
<rect x="416.30" y="576.70" width="19.30" height="51.30" fill="#125287" stroke="#141414" stroke-width="1.2"/>
<line x1="458.80" y1="587.40" x2="458.80" y2="580.70" stroke="#141414" stroke-width="1.3"/>
<line x1="454.20" y1="580.70" x2="462.80" y2="580.70" stroke="#141414" stroke-width="1.4"/>
<rect x="448.40" y="588.00" width="19.50" height="40.00" fill="#125287" stroke="#141414" stroke-width="1.2"/>
<line x1="489.80" y1="534.50" x2="489.80" y2="518.50" stroke="#141414" stroke-width="1.3"/>
<line x1="484.60" y1="518.50" x2="495.00" y2="518.50" stroke="#141414" stroke-width="1.4"/>
<rect x="480.00" y="535.10" width="20.10" height="92.90" fill="#125287" stroke="#141414" stroke-width="1.2"/>
<path d="M360.3,498.8 V486.6 H457.7 V573.8" stroke="#141414" stroke-width="1.35" fill="none"/>
<path d="M460.6,573.8 V486.6 H489.2 V511.5" stroke="#141414" stroke-width="1.35" fill="none"/>
<path d="M363.5,512.2 V503.5 H427.5 V561.1" stroke="#141414" stroke-width="1.35" fill="none"/>
<path d="M364.2,537.3 V528.5 H395.3 V560.4" stroke="#141414" stroke-width="1.35" fill="none"/>
<text transform="translate(383.86,481.50) scale(1.1064,1)" font-size="9.86" font-weight="normal" font-style="normal" text-anchor="start" fill="#111" stroke="#111" stroke-width="0.45" stroke-linejoin="round">0.0003</text>
<text transform="translate(369.75,481.50) scale(0.9697,1)" font-size="10.35" font-weight="normal" font-style="italic" text-anchor="start" fill="#111">p</text>
<text transform="translate(376.43,481.50) scale(1.3408,1)" font-size="9.86" font-weight="normal" font-style="normal" text-anchor="start" fill="#111" stroke="#111" stroke-width="0.35" stroke-linejoin="round">=</text>
<text transform="translate(381.76,498.80) scale(1.1105,1)" font-size="9.86" font-weight="normal" font-style="normal" text-anchor="start" fill="#111" stroke="#111" stroke-width="0.45" stroke-linejoin="round">0.004</text>
<text transform="translate(367.95,498.80) scale(0.9697,1)" font-size="10.35" font-weight="normal" font-style="italic" text-anchor="start" fill="#111">p</text>
<text transform="translate(374.66,498.80) scale(1.2781,1)" font-size="9.86" font-weight="normal" font-style="normal" text-anchor="start" fill="#111" stroke="#111" stroke-width="0.35" stroke-linejoin="round">=</text>
<text transform="translate(381.77,524.20) scale(1.0838,1)" font-size="9.86" font-weight="normal" font-style="normal" text-anchor="start" fill="#111" stroke="#111" stroke-width="0.45" stroke-linejoin="round">0.001</text>
<text transform="translate(367.95,524.20) scale(0.9697,1)" font-size="10.35" font-weight="normal" font-style="italic" text-anchor="start" fill="#111">p</text>
<text transform="translate(374.66,524.20) scale(1.2781,1)" font-size="9.86" font-weight="normal" font-style="normal" text-anchor="start" fill="#111" stroke="#111" stroke-width="0.35" stroke-linejoin="round">=</text>
<text transform="translate(476.17,480.00) scale(1.0782,1)" font-size="10.00" font-weight="normal" font-style="normal" text-anchor="start" fill="#111" stroke="#111" stroke-width="0.45" stroke-linejoin="round">0.004</text>
<text transform="translate(461.75,480.00) scale(0.9697,1)" font-size="10.50" font-weight="normal" font-style="italic" text-anchor="start" fill="#111">p</text>
<text transform="translate(468.52,480.00) scale(1.3608,1)" font-size="10.00" font-weight="normal" font-style="normal" text-anchor="start" fill="#111" stroke="#111" stroke-width="0.35" stroke-linejoin="round">=</text>
<text transform="translate(308.52,624.73) rotate(-90) scale(0.6364,1)" font-size="12.30" font-weight="normal" font-style="normal" text-anchor="start" fill="#111" stroke="#111" stroke-width="0.35" stroke-linejoin="round" letter-spacing="0.865">HIV-1 Luciferase (arbitrary units)</text>
<text transform="translate(350.58,190.58) rotate(-45) scale(0.9340,1)" font-size="11.00" font-weight="bold" font-style="normal" text-anchor="start" fill="#111">Normal</text>
<text transform="translate(440.90,179.96) rotate(-45) scale(0.9496,1)" font-size="11.00" font-weight="bold" font-style="normal" text-anchor="start" fill="#111">SCT</text>
<text transform="translate(67.26,444.80) rotate(-45) scale(0.9425,1)" font-size="11.00" font-weight="bold" font-style="normal" text-anchor="start" fill="#111">Untreated</text>
<text transform="translate(172.44,426.88) rotate(-45) scale(0.9777,1)" font-size="11.00" font-weight="bold" font-style="normal" text-anchor="start" fill="#111">SnIX</text>
<text transform="translate(355.31,427.65) rotate(-45) scale(0.9453,1)" font-size="11.00" font-weight="bold" font-style="normal" text-anchor="start" fill="#111">Untreated</text>
<text transform="translate(447.34,409.88) rotate(-45) scale(0.9718,1)" font-size="11.00" font-weight="bold" font-style="normal" text-anchor="start" fill="#111">SnIX</text>
<text transform="translate(339.17,665.19) rotate(-45) scale(0.9629,1)" font-size="11.20" font-weight="normal" font-style="normal" text-anchor="start" fill="#111" stroke="#111" stroke-width="0.55" stroke-linejoin="round">Control</text>
<text transform="translate(356.91,681.87) rotate(-45) scale(0.9625,1)" font-size="11.20" font-weight="normal" font-style="normal" text-anchor="start" fill="#111" stroke="#111" stroke-width="0.55" stroke-linejoin="round">HO-1 (1 µg)</text>
<text transform="translate(390.11,681.72) rotate(-45) scale(0.9723,1)" font-size="11.20" font-weight="normal" font-style="normal" text-anchor="start" fill="#111" stroke="#111" stroke-width="0.55" stroke-linejoin="round">HO-1 (2 µg)</text>
<text transform="translate(421.66,681.02) rotate(-45) scale(0.9674,1)" font-size="11.20" font-weight="normal" font-style="normal" text-anchor="start" fill="#111" stroke="#111" stroke-width="0.55" stroke-linejoin="round">HO-1 (3 µg)</text>
<text transform="translate(431.69,703.69) rotate(-45) scale(0.9910,1)" font-size="11.20" font-weight="normal" font-style="normal" text-anchor="start" fill="#111" stroke="#111" stroke-width="0.55" stroke-linejoin="round">HO-1 (3 µg)+SnIX</text>
</svg></body></html>
